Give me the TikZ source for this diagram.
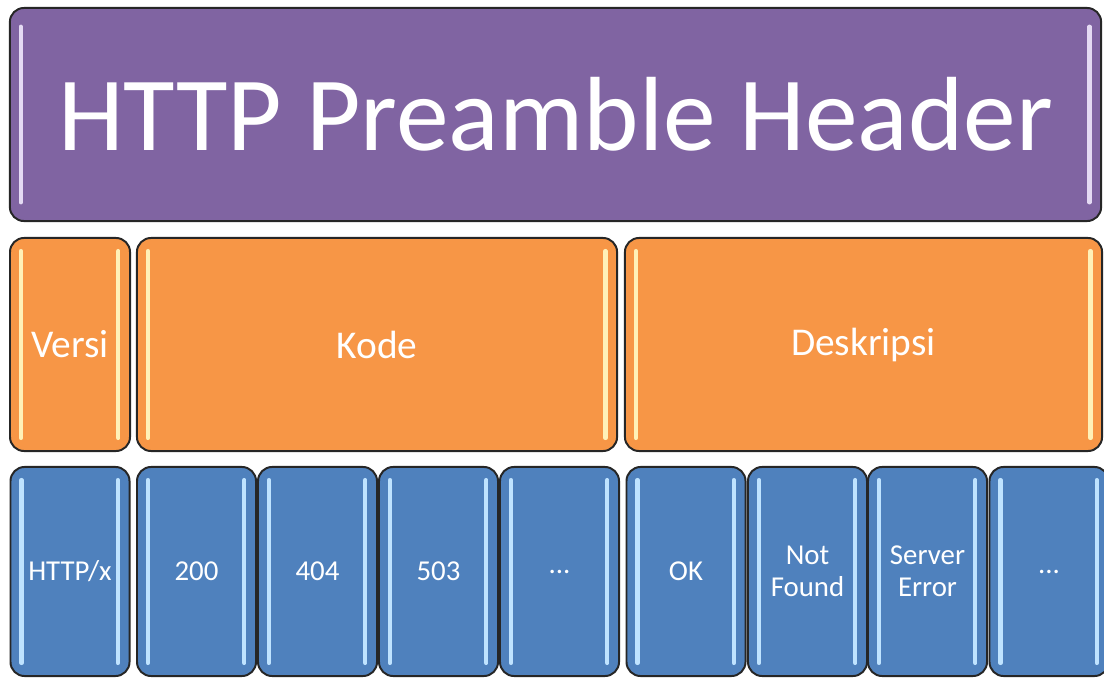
\documentclass[tikz,border=0pt]{standalone}
\usepackage{fontspec}
\setmainfont{Carlito}

\definecolor{hdrfill}{HTML}{8064A2}
\definecolor{hdrshine}{HTML}{E4DAF3}
\definecolor{fldfill}{HTML}{F79646}
\definecolor{fldshine}{HTML}{FFF1B8}
\definecolor{valfill}{HTML}{4F81BD}
\definecolor{valshine}{HTML}{BFE3FF}

% glossy stripes inside a box
\newcommand{\gleam}[3]{%
  \draw[#2, line width=3pt, line cap=round]
    ([xshift=8.5pt,yshift=-#3]#1.north west) -- ([xshift=8.5pt,yshift=#3]#1.south west);
  \draw[#2, line width=3pt, line cap=round]
    ([xshift=-9pt,yshift=-#3]#1.north east) -- ([xshift=-9pt,yshift=#3]#1.south east);
}

\tikzset{
  blk/.style={rounded corners=10pt, draw=black!85, line width=1.4pt,
              text=white, inner sep=0pt, align=center},
  hdrbox/.style={blk, fill=hdrfill, minimum width=27.275cm, minimum height=5.325cm,
                 font=\fontsize{75}{80}\selectfont},
  fldbox/.style={blk, fill=fldfill, minimum height=5.325cm,
                 font=\fontsize{28}{32}\selectfont},
  valbox/.style={blk, fill=valfill, minimum width=2.975cm, minimum height=5.225cm,
                 font=\fontsize{20.5}{23}\selectfont}
}

\begin{document}
\begin{tikzpicture}[x=0.025cm, y=-0.025cm]

    \useasboundingbox (0,0) rectangle (1104,677);

    % Header row
    \node[hdrbox] (header) at (555.5,114.5) {HTTP Preamble Header};
    \gleam{header}{hdrshine}{14pt}

    % Field row
    \node[fldbox, minimum width=3cm]      (versi)     at (70,344.5)    {Versi};
    \node[fldbox, minimum width=12cm]     (kode)      at (377,344.5)   {Kode};
    \node[fldbox, minimum width=11.925cm] (deskripsi) at (863.5,344.5) {Deskripsi};
    \foreach \f in {versi, kode, deskripsi}{
        \gleam{\f}{fldshine}{10pt}
    }

    % Value row
    \node[valbox] (vhttp)  at (70,571.5)     {HTTP/x};
    \node[valbox] (c200)   at (196.5,571.5)  {200};
    \node[valbox] (c404)   at (317.5,571.5)  {404};
    \node[valbox] (c503)   at (438.5,571.5)  {503};
    \node[valbox] (cmore)  at (559.5,571.5)  {...};
    \node[valbox] (dok)    at (686,571.5)    {OK};
    \node[valbox] (dnf)    at (807.5,571.5)  {Not\\Found};
    \node[valbox] (dse)    at (927.5,571.5)  {Server\\Error};
    \node[valbox] (dmore)  at (1049,571.5)   {...};
    \foreach \v in {vhttp, c200, c404, c503, cmore, dok, dnf, dse, dmore}{
        \gleam{\v}{valshine}{10pt}
    }

\end{tikzpicture}
\end{document}
